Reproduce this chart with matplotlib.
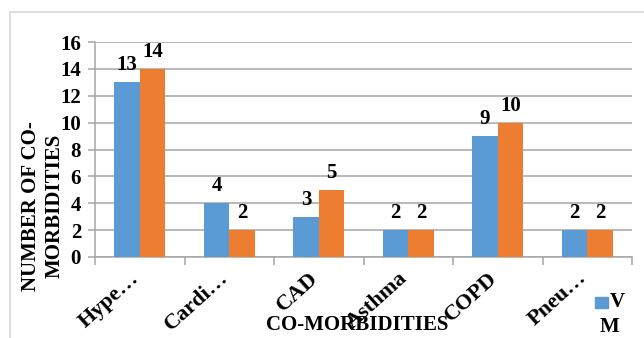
import matplotlib.pyplot as plt
import matplotlib.transforms as mtransforms
import numpy as np
from matplotlib.patches import Rectangle
from matplotlib.lines import Line2D

categories = ['Hype…', 'Cardi…', 'CAD', 'Asthma', 'COPD', 'Pneu…']
v_counts = [13, 4, 3, 2, 9, 2]
m_counts = [14, 2, 5, 2, 10, 2]
series_names = ['V', 'M']

blue = '#5B9BD5'
orange = '#ED7D31'
grid_col = '#A6A6A6'
fs = 15

plt.rcParams['font.family'] = ['Liberation Serif', 'DejaVu Serif']
plt.rcParams['font.weight'] = 'bold'

W, H = 644, 338
fig = plt.figure(figsize=(W / 100, H / 100), dpi=100)
ax = fig.add_axes([95 / W, 1 - 257 / H, (632 - 95) / W, (257 - 42) / H])

x = np.arange(len(categories))
w = 0.285
b1 = ax.bar(x - w / 2, v_counts, w, color=blue, zorder=3)
b2 = ax.bar(x + w / 2, m_counts, w, color=orange, zorder=3)

for bars, vals in ((b1, v_counts), (b2, m_counts)):
    for r, v in zip(bars, vals):
        ax.annotate(str(v), (r.get_x() + r.get_width() / 2, v), xytext=(0, 5),
                    textcoords='offset points', ha='center', va='bottom',
                    fontsize=fs, fontweight='bold')

ax.set_xlim(-0.5, len(categories) - 0.5)
ax.set_ylim(0, 16)
ax.set_yticks(range(0, 17, 2))
ax.yaxis.grid(True, color=grid_col, linewidth=1.1, zorder=0)
ax.set_axisbelow(True)

ax.set_xticks(x)
ax.set_xticklabels(categories, rotation=42, ha='right', va='baseline',
                   rotation_mode='anchor', fontsize=16, fontweight='bold')
shift = mtransforms.ScaledTranslation(14 / 100, 0, fig.dpi_scale_trans)
for lab in ax.get_xticklabels():
    lab.set_transform(lab.get_transform() + shift)
ax.set_xticks(np.arange(-0.5, len(categories)), minor=True)
ax.tick_params(axis='x', which='major', length=0, pad=16)
ax.tick_params(axis='x', which='minor', length=6, color=grid_col, width=1.1)
ax.tick_params(axis='y', length=5, color=grid_col, width=1.1, labelsize=fs, pad=5)
for lab in ax.get_yticklabels():
    lab.set_fontweight('bold')

for s in ('top', 'right'):
    ax.spines[s].set_visible(False)
for s in ('left', 'bottom'):
    ax.spines[s].set_color(grid_col)
    ax.spines[s].set_linewidth(1.1)

fig.text(43 / W, 1 - 206 / H, 'NUMBER OF CO-\nMORBIDITIES', rotation=90,
         ha='center', va='center', fontsize=fs, fontweight='bold', linespacing=1.2)
fig.text(357 / W, 1 - 325 / H, 'CO-MORBIDITIES', ha='center', va='center',
         fontsize=fs, fontweight='bold')

# legend: blue swatch for V, the M swatch is cut off in the original
fig.add_artist(Rectangle((595 / W, 1 - 308 / H), 13 / W, 11 / H,
                         color=blue, transform=fig.transFigure))
fig.text(610 / W, 1 - 302 / H, series_names[0], ha='left', va='center',
         fontsize=fs, fontweight='bold')
fig.text(600 / W, 1 - 327 / H, series_names[1], ha='left', va='center',
         fontsize=fs, fontweight='bold')

fig.add_artist(Line2D([10 / W, 10 / W], [0, 1 - 12 / H],
                      color='#D9D9D9', linewidth=1.2, transform=fig.transFigure))
fig.add_artist(Line2D([10 / W, 1], [1 - 12 / H, 1 - 12 / H],
                      color='#D9D9D9', linewidth=1.2, transform=fig.transFigure))

fig.savefig('out.png', dpi=100)
